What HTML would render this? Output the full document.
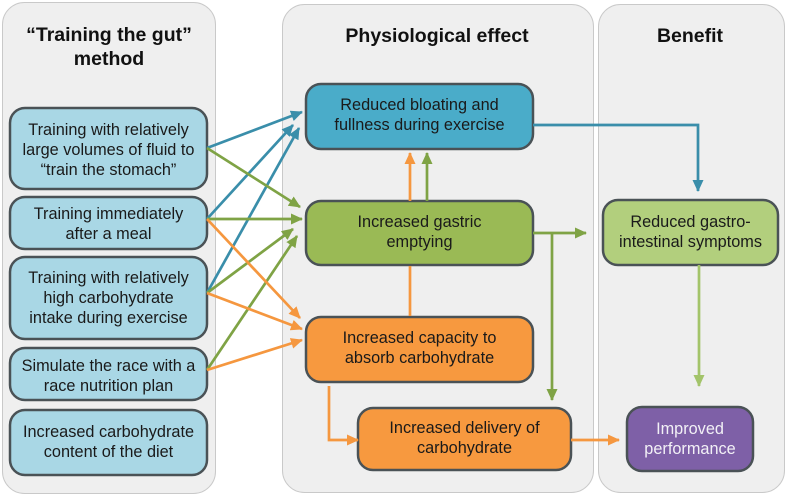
<!DOCTYPE html>
<html>
<head>
<meta charset="utf-8">
<style>
  html, body { margin: 0; padding: 0; background: #ffffff; }
  svg { display: block; }
  text { font-family: "Liberation Sans", Arial, sans-serif; }
  .t { font-size: 16.3px; fill: #1a1a1a; text-anchor: middle; }
  .h { font-size: 19.5px; font-weight: bold; fill: #111; text-anchor: middle; }
</style>
</head>
<body>
<svg width="787" height="497" viewBox="0 0 787 497" xmlns="http://www.w3.org/2000/svg">
  <defs>
    <marker id="mb" markerUnits="userSpaceOnUse" markerWidth="16" markerHeight="14" refX="11" refY="6" orient="auto">
      <path d="M0,0.5 L12,6 L0,11.5 z" fill="#3a8eaa"/>
    </marker>
    <marker id="mg" markerUnits="userSpaceOnUse" markerWidth="16" markerHeight="14" refX="11" refY="6" orient="auto">
      <path d="M0,0.5 L12,6 L0,11.5 z" fill="#7fa345"/>
    </marker>
    <marker id="mo" markerUnits="userSpaceOnUse" markerWidth="16" markerHeight="14" refX="11" refY="6" orient="auto">
      <path d="M0,0.5 L12,6 L0,11.5 z" fill="#f5973f"/>
    </marker>
    <marker id="ml" markerUnits="userSpaceOnUse" markerWidth="16" markerHeight="14" refX="11" refY="6" orient="auto">
      <path d="M0,0.5 L12,6 L0,11.5 z" fill="#a3c46a"/>
    </marker>
  </defs>

  <!-- Panels -->
  <rect x="2.5" y="2.5" width="213" height="491" rx="22" fill="#efefef" stroke="#c9c9c9" stroke-width="1"/>
  <rect x="282.5" y="4.5" width="311" height="488" rx="22" fill="#efefef" stroke="#c9c9c9" stroke-width="1"/>
  <rect x="598.5" y="4.5" width="186" height="488" rx="22" fill="#efefef" stroke="#c9c9c9" stroke-width="1"/>

  <!-- Headers -->
  <text class="h" x="109" y="41">“Training the gut”</text>
  <text class="h" x="109" y="65">method</text>
  <text class="h" x="437" y="42">Physiological effect</text>
  <text class="h" x="690" y="42">Benefit</text>

  <!-- Left boxes -->
  <g fill="#a9d7e5" stroke="#4a5256" stroke-width="2.5">
    <rect x="10" y="108" width="197" height="81" rx="15"/>
    <rect x="10" y="197" width="197" height="52" rx="15"/>
    <rect x="10" y="257" width="197" height="82" rx="15"/>
    <rect x="10" y="348" width="197" height="52" rx="15"/>
    <rect x="10" y="410" width="197" height="65" rx="15"/>
  </g>
  <text class="t" x="108.5" y="135">Training with relatively</text>
  <text class="t" x="108.5" y="155">large volumes of fluid to</text>
  <text class="t" x="108.5" y="175">“train the stomach”</text>
  <text class="t" x="108.5" y="219">Training immediately</text>
  <text class="t" x="108.5" y="239">after a meal</text>
  <text class="t" x="108.5" y="283">Training with relatively</text>
  <text class="t" x="108.5" y="303">high carbohydrate</text>
  <text class="t" x="108.5" y="323">intake during exercise</text>
  <text class="t" x="108.5" y="371">Simulate the race with a</text>
  <text class="t" x="108.5" y="391">race nutrition plan</text>
  <text class="t" x="108.5" y="437">Increased carbohydrate</text>
  <text class="t" x="108.5" y="457">content of the diet</text>

  <!-- Middle boxes -->
  <rect x="306" y="84" width="227" height="65" rx="15" fill="#4aacc9" stroke="#4a5256" stroke-width="2.5"/>
  <rect x="306" y="201" width="227" height="64" rx="15" fill="#9aba55" stroke="#4a5256" stroke-width="2.5"/>
  <rect x="306" y="317" width="227" height="65" rx="15" fill="#f7993f" stroke="#4a5256" stroke-width="2.5"/>
  <rect x="358" y="408" width="213" height="62" rx="15" fill="#f7993f" stroke="#4a5256" stroke-width="2.5"/>
  <text class="t" x="419.5" y="110">Reduced bloating and</text>
  <text class="t" x="419.5" y="130">fullness during exercise</text>
  <text class="t" x="419.5" y="227">Increased gastric</text>
  <text class="t" x="419.5" y="247">emptying</text>
  <text class="t" x="419.5" y="343">Increased capacity to</text>
  <text class="t" x="419.5" y="363">absorb carbohydrate</text>
  <text class="t" x="464.5" y="433">Increased delivery of</text>
  <text class="t" x="464.5" y="453">carbohydrate</text>

  <!-- Right boxes -->
  <rect x="603" y="200" width="175" height="65" rx="15" fill="#b2cf7d" stroke="#4a5256" stroke-width="2.5"/>
  <rect x="627" y="407" width="126" height="64" rx="15" fill="#7e60a7" stroke="#4a5256" stroke-width="2.5"/>
  <text class="t" x="690.5" y="227">Reduced gastro-</text>
  <text class="t" x="690.5" y="247">intestinal symptoms</text>
  <text class="t" x="690" y="434" style="fill:#f2f0f6">Improved</text>
  <text class="t" x="690" y="454" style="fill:#f2f0f6">performance</text>

  <!-- Arrows: left to middle -->
  <g stroke-width="2.7" fill="none">
    <line x1="207" y1="148" x2="302" y2="112" stroke="#3a8eaa" marker-end="url(#mb)"/>
    <line x1="207" y1="219" x2="293" y2="125" stroke="#3a8eaa" marker-end="url(#mb)"/>
    <line x1="207" y1="293" x2="299" y2="128" stroke="#3a8eaa" marker-end="url(#mb)"/>

    <line x1="207" y1="148" x2="300" y2="207" stroke="#7fa345" marker-end="url(#mg)"/>
    <line x1="207" y1="219" x2="302" y2="219" stroke="#7fa345" marker-end="url(#mg)"/>
    <line x1="207" y1="293" x2="293" y2="229" stroke="#7fa345" marker-end="url(#mg)"/>
    <line x1="207" y1="370" x2="297" y2="236" stroke="#7fa345" marker-end="url(#mg)"/>

    <line x1="207" y1="219" x2="300" y2="318" stroke="#f5973f" marker-end="url(#mo)"/>
    <line x1="207" y1="293" x2="302" y2="329" stroke="#f5973f" marker-end="url(#mo)"/>
    <line x1="207" y1="370" x2="302" y2="340" stroke="#f5973f" marker-end="url(#mo)"/>

    <!-- Middle verticals -->
    <line x1="410" y1="201" x2="410" y2="153" stroke="#f5973f" marker-end="url(#mo)"/>
    <line x1="427" y1="201" x2="427" y2="153" stroke="#7fa345" marker-end="url(#mg)"/>
    <line x1="410" y1="316" x2="410" y2="266" stroke="#f5973f"/>

    <line x1="533" y1="233" x2="586" y2="233" stroke="#7fa345" marker-end="url(#mg)"/>
    <line x1="552" y1="233" x2="552" y2="400" stroke="#7fa345" marker-end="url(#mg)"/>

    <polyline points="329,386 329,440 358,440" stroke="#f5973f" marker-end="url(#mo)"/>
    <line x1="571" y1="440" x2="619" y2="440" stroke="#f5973f" marker-end="url(#mo)"/>

    <polyline points="533,125 698,125 698,191" stroke="#3a8eaa" marker-end="url(#mb)"/>
    <line x1="699" y1="265" x2="699" y2="386" stroke="#a3c46a" marker-end="url(#ml)"/>
  </g>
</svg>
</body>
</html>
